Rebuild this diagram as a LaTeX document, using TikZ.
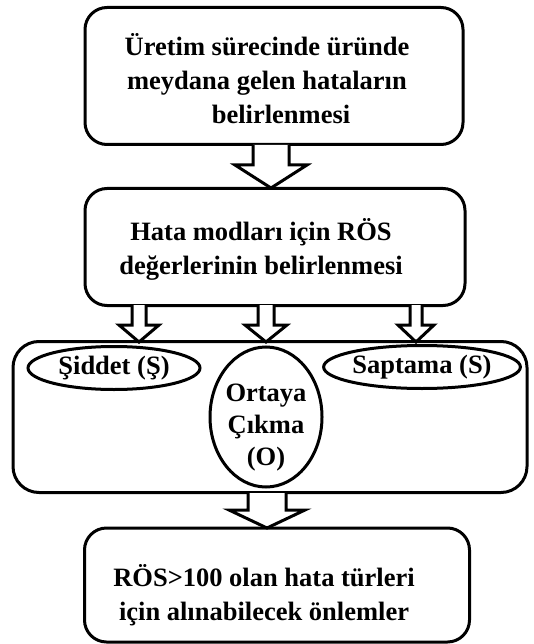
\documentclass[tikz,border=0pt]{standalone}
\usepackage{fontspec}
\setmainfont{Liberation Serif}
\usetikzlibrary{shapes.geometric,calc}
\tikzset{
  box/.style={draw, line width=3pt, rounded corners=22pt, inner sep=0pt},
  txt/.style={align=center, inner sep=0pt, font=\fontsize{26.5}{34}\selectfont\bfseries},
  oval/.style={draw, line width=3pt, ellipse, inner sep=0pt, align=center, font=\fontsize{26.5}{32}\selectfont\bfseries},
  barrow/.style={draw, line width=3pt, fill=white, line join=miter}
}
\newcommand{\blockarr}[5]{%
  \draw[barrow] let \p1=(#1), \p2=(#2) in
    (\x1-#3,\y1) -- (\x1-#3,\y2+#5) -- (\x1-#4,\y2+#5) -- (\x1,\y2)
    -- (\x1+#4,\y2+#5) -- (\x1+#3,\y2+#5) -- (\x1+#3,\y1);
}
\begin{document}
\begin{tikzpicture}[x=1pt,y=-1pt]
\useasboundingbox (0,0) rectangle (534,644);
% boxes
\node[box, minimum width=378pt, minimum height=137pt] (b1) at (274,76) {};
\node[txt] (t1) at (267,79) {Üretim sürecinde üründe\\meydana gelen hataların\\\hspace*{28pt}belirlenmesi};
\node[box, minimum width=380pt, minimum height=117pt] (b2) at (275,247) {};
\node[txt] (t2) at (261,249) {Hata modları için RÖS\\değerlerinin belirlenmesi};
\node[box, rounded corners=26pt, minimum width=514pt, minimum height=151pt] (b3) at (270,417) {};
\node[box, minimum width=385pt, minimum height=114pt] (b4) at (277,585) {};
\node[txt] (t4) at (264,595) {RÖS>100 olan hata türleri\\için alınabilecek önlemler};
% ellipses
\node[oval, minimum width=172pt, minimum height=43pt] (e1) at (114,368) {Şiddet (Ş)};
\node[oval, minimum width=112pt, minimum height=140pt] (e2) at (266,417) {};
\node[txt, font=\fontsize{26.5}{32}\selectfont\bfseries] (t5) at (266,428) {Ortaya\\Çıkma\\(O)};
\node[oval, minimum width=185pt, minimum height=43pt] (e3) at (422,367) {Saptama (S)};
% arrow anchors
\coordinate (a1s) at (271,145);
\coordinate (a1e) at (271,188);
\coordinate (a2s) at (139,305);
\coordinate (a2e) at (139,342);
\coordinate (a3s) at (266,305);
\coordinate (a3e) at (266,342);
\coordinate (a4s) at (416,305);
\coordinate (a4e) at (416,342);
\coordinate (a5s) at (267,493);
\coordinate (a5e) at (267,528);
% block arrows
\blockarr{a1s}{a1e}{18}{36}{23}
\blockarr{a2s}{a2e}{7}{20}{17}
\blockarr{a3s}{a3e}{8}{21}{17}
\blockarr{a4s}{a4e}{6}{18}{17}
\blockarr{a5s}{a5e}{19}{38}{18}
\end{tikzpicture}
\end{document}
